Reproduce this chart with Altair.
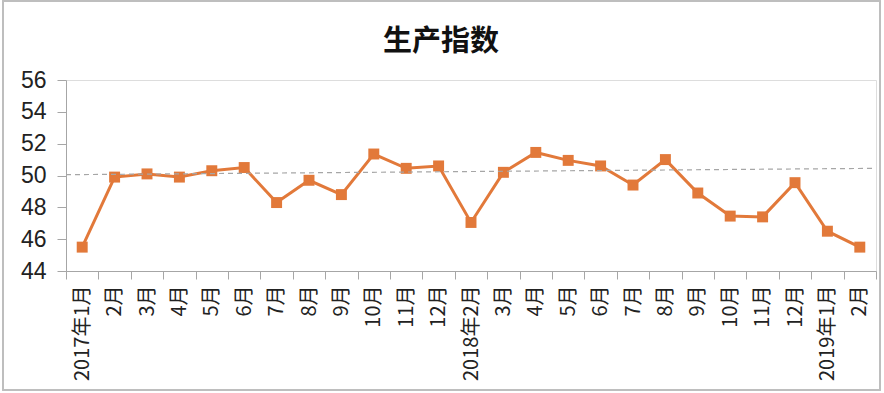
import altair as alt
import pandas as pd
import json

title_text = "生产指数"
labels = ["2017年1月", "2月", "3月", "4月", "5月", "6月", "7月", "8月", "9月", "10月", "11月", "12月",
          "2018年2月", "3月", "4月", "5月", "6月", "7月", "8月", "9月", "10月", "11月", "12月",
          "2019年1月", "2月"]
values = [45.5, 49.9, 50.1, 49.9, 50.3, 50.5, 48.3, 49.7, 48.8, 51.35, 50.45, 50.6,
          47.05, 50.2, 51.45, 50.95, 50.6, 49.4, 51.0, 48.9, 47.45, 47.4, 49.55, 46.5, 45.5]
y_ticks = [44, 46, 48, 50, 52, 54, 56]
ref_start, ref_end = 50.05, 50.45

df = pd.DataFrame({"idx": list(range(len(labels))), "label": labels, "value": values})

W, H = 810, 191
label_expr = json.dumps(labels, ensure_ascii=False) + "[datum.value]"

y_scale = alt.Scale(domain=[y_ticks[0], y_ticks[-1]], nice=False, zero=False)
y_axis = alt.Axis(title=None, values=y_ticks, labelFontSize=23, labelOverlap=False,
                  labelFont="Liberation Sans", labelColor="#222222", labelPadding=11,
                  tickSize=9, domainColor="#A6A6A6", tickColor="#A6A6A6", grid=False)

x_enc = alt.X("idx:O", bandPosition=0.5,
              scale=alt.Scale(type="band", paddingInner=0, paddingOuter=0),
              axis=alt.Axis(title=None, labelExpr=label_expr, labelAngle=-90, labelOverlap=False,
                            tickBand="extent", labelFontSize=20, labelFont="Noto Sans CJK SC",
                            labelColor="#222222", labelPadding=6, tickSize=8,
                            domainColor="#A6A6A6", tickColor="#A6A6A6", grid=False))
y_enc = alt.Y("value:Q", scale=y_scale, axis=y_axis)

base = alt.Chart(df)

frame = base.mark_rect(fill=None, stroke="#BFBFBF", strokeWidth=1.5, clip=False).encode(
    x=alt.value(-63), x2=alt.value(814), y=alt.value(-79), y2=alt.value(310))

title = alt.Chart(pd.DataFrame({"t": [title_text]})).mark_text(
    font="Noto Sans CJK SC", fontSize=29, fontWeight="bold", color="#111111",
    align="center", baseline="middle").encode(
    text="t:N", x=alt.value(375), y=alt.value(-38))

ref = alt.Chart(pd.DataFrame({"a": [ref_start], "b": [ref_end]})).mark_rule(
    color="#A6A6A6", strokeDash=[5, 4], strokeWidth=1.2).encode(
    x=alt.value(0), x2=alt.value(W), y=alt.Y("a:Q", scale=y_scale, axis=y_axis), y2="b:Q")

line = base.mark_line(color="#E2793A", strokeWidth=3).encode(x=x_enc, y=y_enc)
pts = base.mark_square(color="#E2793A", size=120, opacity=1).encode(x=x_enc, y=y_enc)

chart = alt.layer(frame, title, line, pts, ref).properties(
    width=W, height=H,
    autosize=alt.AutoSizeParams(type="none"),
    padding={"left": 66, "top": 80, "right": 8, "bottom": 122},
).configure_view(stroke=None).configure(background="white")

chart.save("out.html", embed_options={"renderer": "svg", "actions": False})
